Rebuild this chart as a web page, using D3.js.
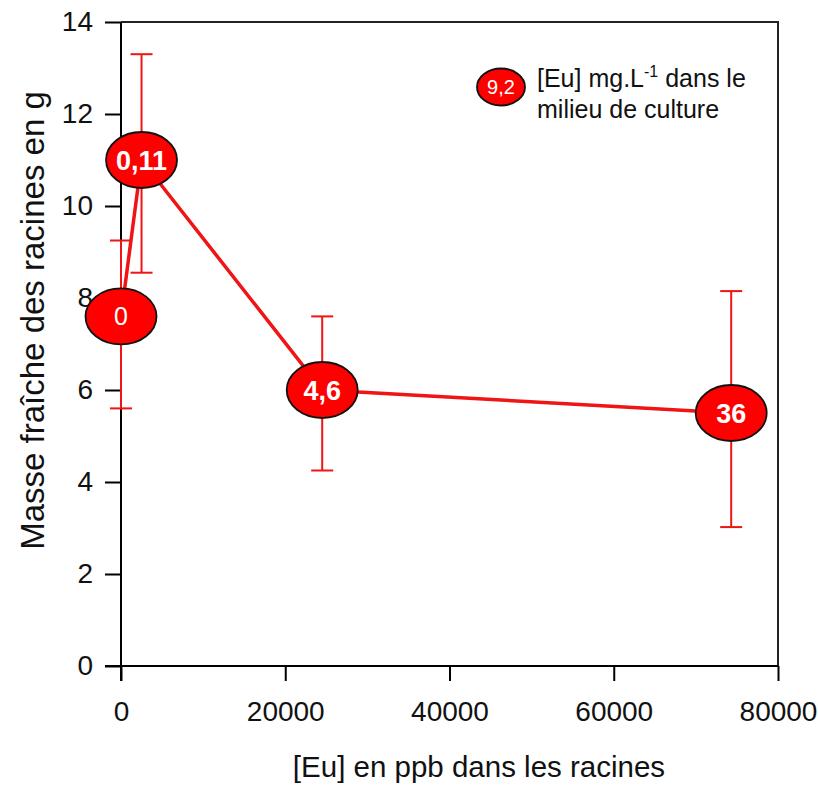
<!DOCTYPE html>
<html>
<head>
<meta charset="utf-8">
<script src="https://cdn.jsdelivr.net/npm/d3@7"></script>
<style>
  html, body { margin: 0; padding: 0; background: #fff; }
  svg { display: block; font-family: "Liberation Sans", Arial, sans-serif; }
</style>
</head>
<body>
<svg id="chart" width="818" height="787"></svg>
<script>
// ---- data ----
const concLabels = ["0", "0,11", "4,6", "36"];       // [Eu] mg.L-1 in culture medium
const euRoots    = [0, 2500, 24500, 74300];           // [Eu] ppb in roots
const massMean   = [7.6, 11.0, 6.0, 5.5];             // fresh root mass (g)
const errLow     = [5.6, 8.55, 4.25, 3.02];
const errHigh    = [9.25, 13.3, 7.6, 8.15];
const xTicks     = [0, 20000, 40000, 60000, 80000];
const yTicks     = [0, 2, 4, 6, 8, 10, 12, 14];
const legendLabel = "9,2";

const points = concLabels.map((c, i) => ({
  label: c, x: euRoots[i], y: massMean[i], lo: errLow[i], hi: errHigh[i]
}));

const svg = d3.select("#chart");
const pLeft = 121, pRight = 778, pTop = 22, pBottom = 666;
const x = d3.scaleLinear().domain([0, 80000]).range([pLeft, pRight]);
const y = d3.scaleLinear().domain([0, 14]).range([pBottom, pTop]);

const RED = "#f01414";

// frame (top and right)
svg.append("path")
  .attr("d", `M${x(0)},${y(14)}H${x(80000)}V${y(0)}`)
  .attr("fill", "none").attr("stroke", "#222").attr("stroke-width", 2);

// axes
const xAxis = svg.append("g")
  .attr("transform", `translate(0,${y(0)})`)
  .call(d3.axisBottom(x).tickValues(xTicks).tickFormat(d3.format("d"))
        .tickSize(15).tickSizeOuter(0).tickPadding(20));
const yAxis = svg.append("g")
  .attr("transform", `translate(${x(0)},0)`)
  .call(d3.axisLeft(y).tickValues(yTicks).tickFormat(d3.format("d"))
        .tickSize(16).tickSizeOuter(0).tickPadding(12));
[xAxis, yAxis].forEach(g => {
  g.selectAll("path, line").attr("stroke", "#000").attr("stroke-width", 2);
  g.selectAll("text").attr("fill", "#111").style("font-size", "28px")
    .style("font-family", '"Liberation Sans", Arial, sans-serif');
});
yAxis.select(".domain").attr("d", `M0,${y(14)}V${y(0) + 15}`);
xAxis.select(".domain").attr("d", `M${x(0) - 16},0H${x(80000)}`);

// axis titles
svg.append("text")
  .attr("x", 479).attr("y", 777)
  .attr("text-anchor", "middle")
  .style("font-size", "29.5px").attr("fill", "#111")
  .text("[Eu] en ppb dans les racines");
svg.append("text")
  .attr("transform", `translate(44,${(88 + 553) / 2}) rotate(-90)`)
  .attr("text-anchor", "middle")
  .style("font-size", "33px").attr("fill", "#111")
  .text("Masse fraîche des racines en g");

// error bars
const eb = svg.append("g").attr("stroke", RED).attr("stroke-width", 2).attr("fill", "none");
points.forEach(p => {
  eb.append("line").attr("x1", x(p.x)).attr("x2", x(p.x)).attr("y1", y(p.lo)).attr("y2", y(p.hi));
  eb.append("line").attr("x1", x(p.x) - 11).attr("x2", x(p.x) + 11).attr("y1", y(p.lo)).attr("y2", y(p.lo));
  eb.append("line").attr("x1", x(p.x) - 11).attr("x2", x(p.x) + 11).attr("y1", y(p.hi)).attr("y2", y(p.hi));
});

// connecting line
const line = d3.line().x(d => x(d.x)).y(d => y(d.y));
svg.append("path").datum(points)
  .attr("d", line).attr("fill", "none")
  .attr("stroke", RED).attr("stroke-width", 3.5);

// ellipse markers
const mk = svg.append("g").selectAll("g").data(points).join("g")
  .attr("transform", d => `translate(${x(d.x)},${y(d.y)})`);
mk.append("ellipse").attr("rx", 35.5).attr("ry", 28)
  .attr("fill", "#ff0000").attr("stroke", "#111").attr("stroke-width", 1.8);
mk.append("text")
  .attr("text-anchor", "middle")
  .attr("y", d => d.label === "0" ? 9 : 10)
  .attr("fill", "#fff")
  .style("font-size", d => d.label === "0" ? "25px" : "27px")
  .style("font-weight", d => d.label === "0" ? "normal" : "bold")
  .text(d => d.label);

// legend
const lg = svg.append("g");
lg.append("ellipse").attr("cx", 501).attr("cy", 87).attr("rx", 24).attr("ry", 18.5)
  .attr("fill", "#ff0000").attr("stroke", "#111").attr("stroke-width", 1.8);
lg.append("text").attr("x", 501).attr("y", 94).attr("text-anchor", "middle")
  .attr("fill", "#fff").style("font-size", "20px").text(legendLabel);
const t1 = lg.append("text").attr("x", 537).attr("y", 87).attr("fill", "#111").style("font-size", "25px");
t1.append("tspan").text("[Eu] mg.L");
t1.append("tspan").attr("dy", -10).style("font-size", "16px").text("-1");
t1.append("tspan").attr("dy", 10).text(" dans le");
lg.append("text").attr("x", 537).attr("y", 118).attr("fill", "#111").style("font-size", "25px")
  .text("milieu de culture");
</script>
</body>
</html>
